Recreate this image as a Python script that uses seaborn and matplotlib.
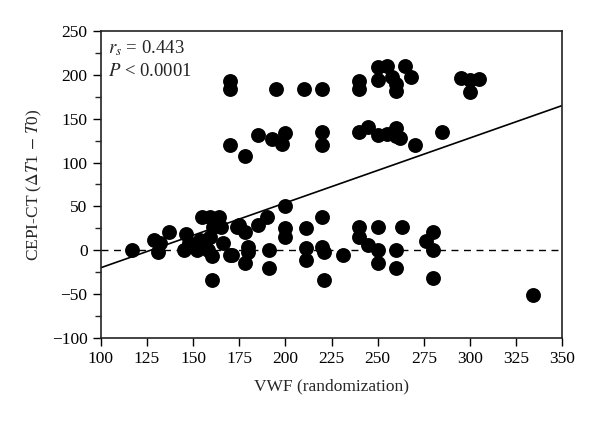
import numpy as np
import pandas as pd
import matplotlib
matplotlib.use("Agg")
import matplotlib.pyplot as plt
from matplotlib.ticker import MultipleLocator
import seaborn as sns

# VWF at randomization vs change in CEPI-CT
vwf = [170, 170, 170, 178, 185, 195, 193, 198, 200, 210, 220, 220, 220,
       240, 240, 240, 245, 250, 250, 250, 255, 255, 258, 260, 260, 260, 260, 262,
       265, 268, 270, 285, 295, 300, 300, 305,
       117, 129, 131, 137, 132, 146, 145, 148, 154, 155, 159, 164, 161, 165, 159,
       166, 160, 160, 170, 174, 158, 152,
       175, 178, 185, 190, 200, 200, 200, 211, 220, 171, 180, 180, 178, 191, 191,
       211, 211, 220, 221, 221, 231, 240, 240,
       245, 250, 250, 250, 260, 260, 263, 276, 280, 280, 280, 334]
cepi = [193, 184, 120, 107, 131, 184, 127, 121, 134, 184, 184, 135, 120,
        193, 184, 135, 140, 209, 194, 131, 210, 133, 198, 190, 182, 130, 139, 128,
        210, 197, 120, 135, 196, 194, 181, 195,
        0, 12, -2, 21, 8, 19, 0, 8, 12, 38, 38, 38, 27, 27, 15,
        8, -7, -34, -5, 27, 0, 0,
        29, 21, 29, 38, 50, 25, 15, 25, 38, -5, 4, -2, -15, 0, -20,
        2, -11, 4, -2, -34, -5, 27, 15,
        6, 27, 0, -15, 0, -20, 27, 10, 21, 0, -32, -51]

# fitted regression line
fit_x = [100, 350]
fit_y = [-20, 165]

df = pd.DataFrame({"vwf": vwf, "cepi": cepi})

sns.set_style("ticks")
plt.rcParams["font.family"] = ["Liberation Serif", "DejaVu Serif"]
plt.rcParams["mathtext.fontset"] = "stix"

fig = plt.figure(figsize=(6, 4.25), dpi=100)
ax = fig.add_axes([0.168, 0.205, 0.769, 0.722])

ax.axhline(0, color="black", lw=1, ls=(0, (5, 4)), zorder=1)
ax.plot(fit_x, fit_y, color="black", lw=1.2, zorder=2)
sns.scatterplot(data=df, x="vwf", y="cepi", ax=ax, color="black",
                s=115, edgecolor="black", linewidth=0, zorder=3)

ax.set_xlim(100, 350)
ax.set_ylim(-100, 250)
ax.xaxis.set_major_locator(MultipleLocator(25))
ax.yaxis.set_major_locator(MultipleLocator(50))
ax.yaxis.set_minor_locator(MultipleLocator(25))
ax.tick_params(axis="both", which="major", direction="out", length=6,
               width=1, labelsize=12.5, colors="black")
ax.tick_params(axis="y", which="minor", direction="out", length=4, width=1)
for sp in ax.spines.values():
    sp.set_linewidth(1.2)
    sp.set_color("#222222")

ax.set_xlabel("VWF (randomization)", fontsize=12.5, labelpad=8)
ax.set_ylabel(r"CEPI-CT ($\Delta T$1 $-$ $T$0)", fontsize=12.5, labelpad=6)

ax.text(0.015, 0.975, r"$r_s$ = 0.443", transform=ax.transAxes,
        fontsize=13.5, va="top", ha="left")
ax.text(0.015, 0.895, r"$P$ < 0.0001", transform=ax.transAxes,
        fontsize=13.5, va="top", ha="left")

fig.savefig("out.png", dpi=100)
